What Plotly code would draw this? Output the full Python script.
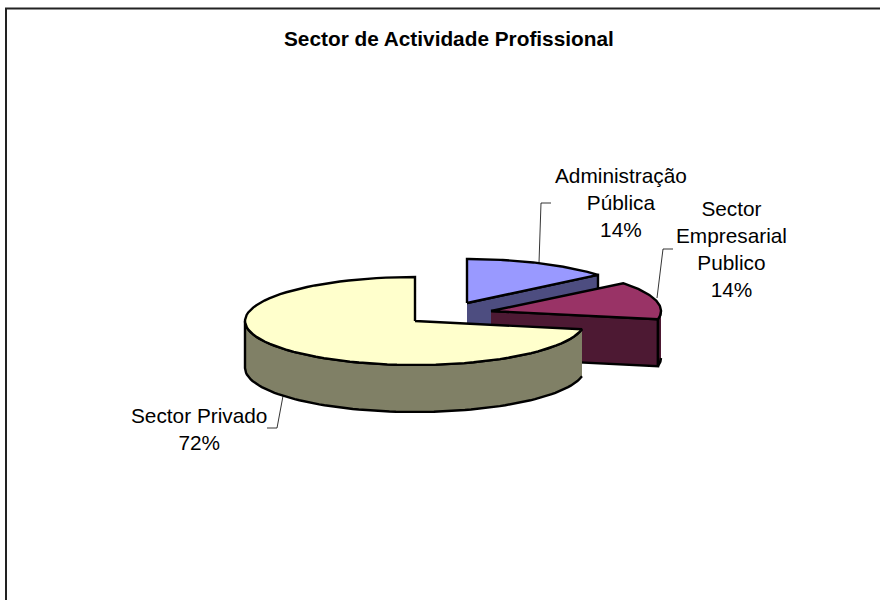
import numpy as np
import plotly.graph_objects as go

# Data
categories = ["Administração<br>Pública", "Sector<br>Empresarial<br>Publico", "Sector Privado"]
values = [14, 14, 72]
label_text = ["14%", "14%", "72%"]
title_text = "Sector de Actividade Profissional"

# Style
top_colors = ["#9999ff", "#993366", "#ffffcc"]
side_colors = ["#4d4d80", "#4d1933", "#808066"]
edge = "#000000"
W, H = 880, 600
RX, RY, DEPTH = 170, 44, 47
centers = [(467, 303), (491, 311), (415, 321)]
label_pos = [(620.5, 202.5), (731, 248.5), (199, 428.5)]
leaders = [
    ([551, 541, 539], [203, 203, 263]),
    ([673, 663, 657], [249, 249, 298]),
    ([267, 277, 283], [428, 428, 396]),
]
FONT = 20.8


def rim(c, a0, a1, dy=0, n=80):
    t = np.linspace(a0, a1, n)
    return c[0] + RX * np.sin(t), c[1] - RY * np.cos(t) + dy


def poly(fig, xs, ys, color):
    fig.add_trace(go.Scatter(x=np.round(xs, 2), y=np.round(ys, 2), mode="lines", fill="toself",
                             fillcolor=color, line=dict(color=edge, width=2.4),
                             hoverinfo="skip", showlegend=False))


fig = go.Figure()
cum = np.cumsum([0] + values) / sum(values) * 2 * np.pi

for i in range(len(values)):
    c, a0, a1 = centers[i], cum[i], cum[i + 1]
    # cut face at the end of the slice (visible when it faces the viewer)
    ex, ey = rim(c, a1, a1, n=1)
    if i < 2:
        poly(fig, [c[0], ex[0], ex[0], c[0]], [c[1], ey[0], ey[0] + DEPTH, c[1] + DEPTH], side_colors[i])
    # curved outer wall: the part of the rim on the front of the ellipse
    lo, hi = max(a0, np.pi / 2), min(a1, 3 * np.pi / 2)
    if lo < hi:
        x1, y1 = rim(c, lo, hi)
        x2, y2 = rim(c, hi, lo, DEPTH)
        poly(fig, np.r_[x1, x2], np.r_[y1, y2], side_colors[i])
    # top face
    x, y = rim(c, a0, a1)
    poly(fig, np.r_[c[0], x, c[0]], np.r_[c[1], y, c[1]], top_colors[i])

for lx, ly in leaders:
    fig.add_trace(go.Scatter(x=lx, y=ly, mode="lines", line=dict(color="#000000", width=0.8),
                             hoverinfo="skip", showlegend=False))

for cat, lab, (lx, ly) in zip(categories, label_text, label_pos):
    fig.add_annotation(x=lx, y=ly, text=f"{cat}<br>{lab}", showarrow=False, align="center",
                       font=dict(family="Liberation Sans", size=FONT, color="#000000"))

fig.add_annotation(x=449, y=38, text=f"<b>{title_text}</b>", showarrow=False,
                   font=dict(family="Liberation Sans", size=FONT, color="#000000"))

# chart frame: top and left edges only
fig.add_trace(go.Scatter(x=[6, 6, W], y=[H, 8.5, 8.5], mode="lines", line=dict(color="#222222", width=2),
                         hoverinfo="skip", showlegend=False))

fig.update_layout(width=W, height=H, margin=dict(l=0, r=0, t=0, b=0), autosize=False,
                  paper_bgcolor="#ffffff", plot_bgcolor="#ffffff",
                  xaxis=dict(range=[0, W], visible=False, fixedrange=True),
                  yaxis=dict(range=[H, 0], visible=False, fixedrange=True))
fig.write_html("out.html", config=dict(displayModeBar=False),
               post_script="document.body.style.margin='0';document.documentElement.style.overflow='hidden';")
